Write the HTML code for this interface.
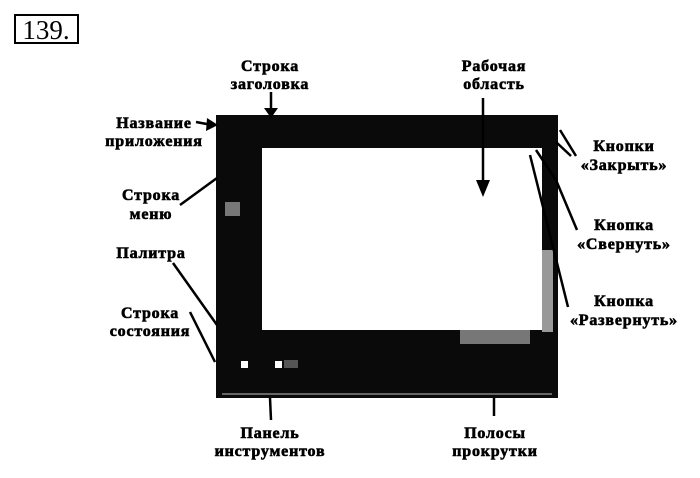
<!DOCTYPE html>
<html><head><meta charset="utf-8"><style>
html,body{margin:0;padding:0;background:#fff;}
svg{display:block;}
text{font-family:"Liberation Serif",serif;font-weight:bold;font-size:16px;letter-spacing:0.8px;fill:#000;stroke:#000;stroke-width:0.6px;}
</style></head><body>
<svg width="700" height="478" viewBox="0 0 700 478" xmlns="http://www.w3.org/2000/svg">
<rect x="15" y="15" width="63" height="28" fill="none" stroke="#000" stroke-width="2"/>
<text x="46" y="39" text-anchor="middle" style="font-size:27px;font-weight:normal;letter-spacing:0;stroke-width:0">139.</text>
<rect x="216" y="115" width="342" height="283" fill="#0a0a0a"/>
<rect x="262" y="148" width="280" height="182" fill="#fff"/>
<rect x="542" y="250" width="11" height="82" fill="#999"/>
<rect x="460" y="330" width="70" height="14" fill="#777"/>
<rect x="222" y="393" width="330" height="2" fill="#666"/>
<rect x="225" y="202" width="15" height="14" fill="#777"/>
<rect x="241" y="361" width="7" height="7" fill="#fff"/>
<rect x="275" y="361" width="7" height="7" fill="#fff"/>
<rect x="284" y="360" width="14" height="8" fill="#555"/>
<g text-anchor="middle">
<text x="270" y="71">Строка</text><text x="270" y="89">заголовка</text>
<text x="494" y="71">Рабочая</text><text x="494" y="89">область</text>
<text x="154" y="128">Название</text><text x="154" y="146">приложения</text>
<text x="151" y="200">Строка</text><text x="151" y="219">меню</text>
<text x="151" y="258">Палитра</text>
<text x="150" y="318">Строка</text><text x="150" y="336">состояния</text>
<text x="624" y="151">Кнопки</text><text x="624" y="170">«Закрыть»</text>
<text x="624" y="230">Кнопка</text><text x="624" y="249">«Свернуть»</text>
<text x="624" y="306">Кнопка</text><text x="624" y="325">«Развернуть»</text>
<text x="270" y="438">Панель</text><text x="270" y="456">инструментов</text>
<text x="495" y="438">Полосы</text><text x="495" y="456">прокрутки</text>
</g>
<g stroke="#000" stroke-width="2.5" fill="none">
<line x1="271" y1="92" x2="271" y2="112"/>
<line x1="483" y1="98" x2="483" y2="185"/>
<line x1="196" y1="122" x2="212" y2="125"/>
<line x1="180" y1="205" x2="217" y2="178"/>
<line x1="173" y1="263" x2="217" y2="325"/>
<line x1="190" y1="312" x2="215" y2="362"/>
<line x1="560" y1="130" x2="576" y2="156"/>
<line x1="556" y1="142" x2="571" y2="156"/>
<line x1="577" y1="230" x2="556" y2="180"/>
<line x1="556" y1="180" x2="536" y2="150"/>
<line x1="568" y1="307" x2="530" y2="155"/>
<line x1="270" y1="398" x2="271" y2="420"/>
<line x1="494" y1="398" x2="494" y2="416"/>
</g>
<g fill="#000">
<polygon points="264,108 278,108 271,118"/>
<polygon points="476,180 490,180 483,197"/>
<polygon points="207,118 218,125 206,131"/>
</g>
</svg>
</body></html>
